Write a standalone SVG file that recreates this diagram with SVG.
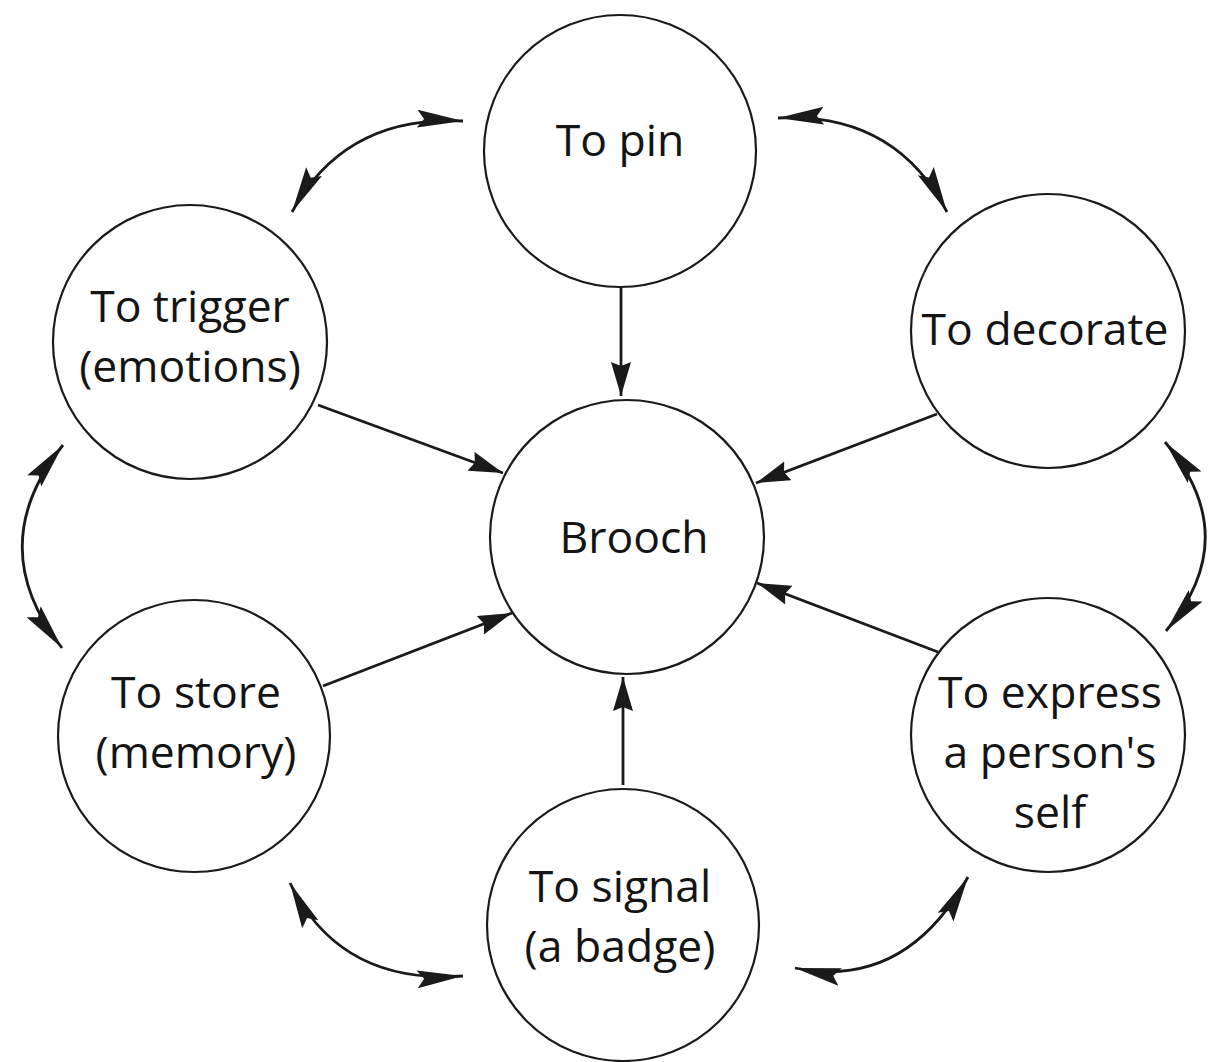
<svg xmlns="http://www.w3.org/2000/svg" width="1209" height="1062" viewBox="0 0 1209 1062">
<style>
.node circle{fill:#fff;stroke:#1a1a1a;stroke-width:2.2}
.node text{font-family:"Open Sans","Noto Sans",sans-serif;font-size:44.5px;fill:#141414;text-anchor:middle}
.conn path,.conn line{fill:none;stroke:#1a1a1a;stroke-width:2.8}
.str{marker-end:url(#ah)}
.cur{marker-start:url(#ac);marker-end:url(#ac)}
</style>
<defs>
<marker id="ah" markerUnits="userSpaceOnUse" markerWidth="36" markerHeight="20" refX="34" refY="10" orient="auto">
<path d="M0,0 L34,10 L0,20 L4,10 z" fill="#1a1a1a"/>
</marker>
<marker id="ac" markerUnits="userSpaceOnUse" markerWidth="48" markerHeight="20" refX="46" refY="9" orient="auto-start-reverse">
<path d="M0,0 L46,9 L0,18 L7,9 z" fill="#1a1a1a"/>
</marker>
</defs>
<rect width="1209" height="1062" fill="#fff"/>
<g class="conn">
<line class="str" x1="621" y1="287" x2="621" y2="396"/>
<line class="str" x1="318" y1="405" x2="503" y2="473"/>
<line class="str" x1="937" y1="414" x2="756" y2="483"/>
<line class="str" x1="323" y1="686" x2="512" y2="613"/>
<line class="str" x1="623" y1="785" x2="623" y2="677"/>
<line class="str" x1="938" y1="652" x2="757" y2="583"/>
<path class="cur" d="M292,212 Q345,115 463,121"/>
<path class="cur" d="M778,118 Q895,112 947,212"/>
<path class="cur" d="M63,445 Q-18,546 62,648"/>
<path class="cur" d="M1165,442 Q1245,537 1166,631"/>
<path class="cur" d="M290,883 Q340,985 463,976"/>
<path class="cur" d="M795,968 Q905,990 968,877"/>
</g>
<g id="pin" class="node"><circle cx="620" cy="151" r="136"/><text x="620" y="156">To pin</text></g>
<g id="brooch" class="node"><circle cx="627" cy="537" r="137"/><text x="634" y="553">Brooch</text></g>
<g id="trigger" class="node"><circle cx="190" cy="342" r="137"/><text x="190" y="322">To trigger</text><text x="190" y="382">(emotions)</text></g>
<g id="decorate" class="node"><circle cx="1048" cy="331" r="137"/><text x="1045" y="345">To decorate</text></g>
<g id="store" class="node"><circle cx="194" cy="736" r="136"/><text x="196" y="708">To store</text><text x="196" y="768">(memory)</text></g>
<g id="express" class="node"><circle cx="1048" cy="735" r="137"/><text x="1050" y="708">To express</text><text x="1050" y="768">a person's</text><text x="1050" y="828">self</text></g>
<g id="signal" class="node"><circle cx="623" cy="925" r="136"/><text x="620" y="902">To signal</text><text x="620" y="962">(a badge)</text></g>
</svg>
